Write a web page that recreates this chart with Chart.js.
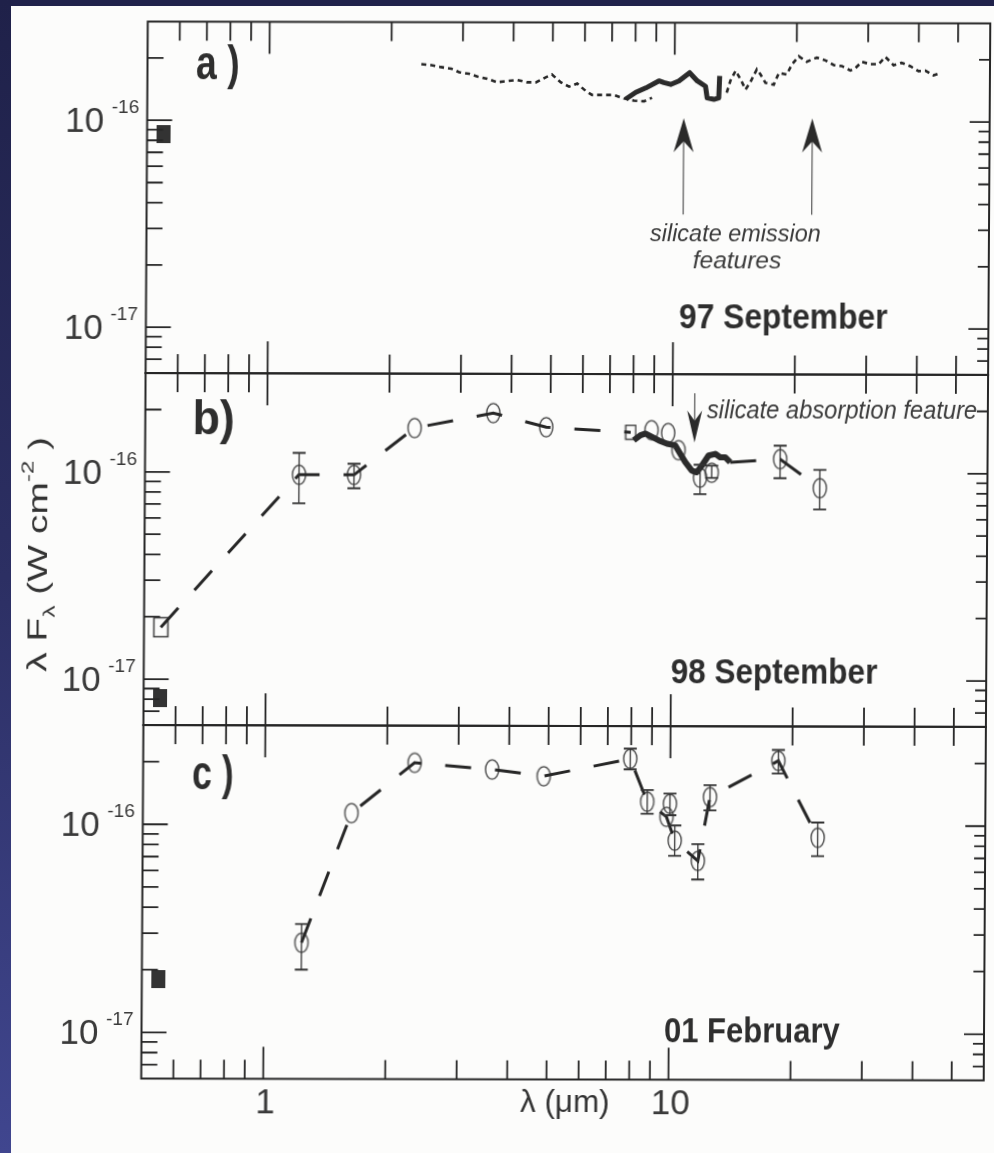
<!DOCTYPE html>
<html>
<head>
<meta charset="utf-8">
<title>Spectral energy distribution, three epochs</title>
<script src="https://cdn.jsdelivr.net/npm/chart.js@4.4.1/dist/chart.umd.min.js"></script>
<style>
  html, body { margin: 0; padding: 0; }
  body { width: 994px; height: 1153px; position: relative; overflow: hidden; background: #fcfcfb; }
  #bandTop { position: absolute; left: 0; top: 0; width: 994px; height: 6px; background: #20224b; }
  #bandLeft { position: absolute; left: 0; top: 0; width: 11px; height: 1153px;
              background: linear-gradient(#1f2149, #2c2f63 50%, #40468f); }
  #stage { position: absolute; left: 0; top: 0; width: 994px; height: 1153px;
           transform-origin: 569px 550px; transform: matrix(1, 0.0022, -0.0062, 1, 0, 0); }
  #stage canvas { position: absolute; left: 0; top: 0; }
</style>
</head>
<body>
<div id="bandTop"></div>
<div id="bandLeft"></div>
<div id="stage">
  <canvas id="panelA" width="994" height="1153"></canvas>
  <canvas id="panelB" width="994" height="1153"></canvas>
  <canvas id="panelC" width="994" height="1153"></canvas>
</div>
<script>
// ---------------- axes (λ in μm, λFλ in W cm^-2) ----------------
const xRange = [0.5, 60];
const yRange = [6e-18, 3e-16];
const xMajorTicks = [1, 10];
const xTickLabels = ['1', '10'];
const xMinorTicks = [0.6, 0.7, 0.8, 0.9, 2, 3, 4, 5, 6, 7, 8, 9, 20, 30, 40, 50];
const yMajorTicks = [1e-16, 1e-17];
const yMajorExponents = ['-16', '-17'];
const yMinorTicks = [2e-16, 9e-17, 8e-17, 7e-17, 6e-17, 5e-17, 4e-17, 3e-17, 2e-17, 9e-18, 8e-18, 7e-18];

// fluxes below are in units of 1e-16 W cm^-2
const FLUX_UNIT = 1e-16;

// ---------------- a) 97 September ----------------
const sep97VisX = [0.55];
const sep97VisFlux = [0.858];
const sep97DotX = [2.37, 2.51, 2.65, 2.81, 2.94, 3.11, 3.26, 3.45, 3.65, 3.86, 4.09, 4.33, 4.55, 4.81, 4.98,
  5.24, 5.49, 5.75, 6.04, 6.26, 6.70, 7.09, 7.50, 7.94, 8.41, 8.80, 11.0, 13.45, 13.74, 14.14, 14.55, 14.97,
  15.40, 15.95, 16.29, 16.76, 17.57, 18.08, 18.91, 19.46, 20.24, 21.18, 22.42, 23.55, 24.69, 25.84, 27.15,
  27.93, 28.95, 30.41, 31.87, 33.11, 34.69, 36.30, 38.15, 39.99, 41.54, 43.54, 44.79];
const sep97DotFlux = [1.88, 1.86, 1.82, 1.79, 1.72, 1.69, 1.64, 1.60, 1.54, 1.56, 1.58, 1.54, 1.54, 1.63, 1.68,
  1.54, 1.47, 1.52, 1.40, 1.34, 1.34, 1.34, 1.29, 1.26, 1.25, 1.30, null, 1.38, 1.58, 1.76, 1.60, 1.43,
  1.56, 1.79, 1.69, 1.54, 1.51, 1.72, 1.69, 1.89, 2.07, 1.95, 2.04, 1.98, 1.88, 1.86, 1.77,
  1.82, 1.95, 1.90, 1.90, 2.06, 1.88, 1.93, 1.86, 1.76, 1.77, 1.68, 1.71];
const sep97BoldX = [7.58, 8.02, 8.49, 9.15, 9.41, 9.78, 10.25, 10.89, 11.38, 11.92, 12.04, 12.51, 12.86, 12.92];
const sep97BoldFlux = [1.28, 1.38, 1.45, 1.57, 1.54, 1.51, 1.57, 1.72, 1.57, 1.48, 1.30, 1.28, 1.30, 1.66];

// ---------------- b) 98 September ----------------
const sep98VisX = [0.55];
const sep98VisFlux = [0.081];
const sep98BoxX = [0.55, 7.89];
const sep98BoxFlux = [0.178, 1.572];
const sep98PhotX = [1.20, 1.64, 2.31, 3.61, 4.88, 8.88, 9.76, 10.36, 11.72, 12.52, 18.46, 23.15];
const sep98PhotFlux = [0.973, 0.973, 1.64, 1.94, 1.66, 1.61, 1.56, 1.29, 0.951, 1.005, 1.17, 0.848];
const sep98ErrLo = [0.708, 0.838, null, null, null, null, null, null, 0.792, 0.948, 0.947, 0.670];
const sep98ErrHi = [1.239, 1.100, null, null, null, null, null, null, 1.097, 1.087, 1.360, 1.039];
const sep98SpecX = [8.03, 8.34, 8.58, 9.25, 9.70, 10.17, 10.46, 10.77, 11.18, 11.50, 11.84, 12.29, 12.77, 13.13, 13.51, 13.90];
const sep98SpecFlux = [1.438, 1.521, 1.550, 1.438, 1.386, 1.360, 1.239, 1.129, 1.028, 1.009, 1.088, 1.216, 1.239, 1.193, 1.193, 1.129];

// ---------------- c) 01 February ----------------
const feb01VisX = [0.55];
const feb01VisFlux = [0.181];
const feb01PhotX = [1.237, 1.636, 2.338, 3.632, 4.87, 7.96, 8.78, 9.80, 9.99, 10.28, 11.73, 12.54, 18.47, 23.16];
const feb01PhotFlux = [0.271, 1.138, 1.99, 1.85, 1.72, 2.09, 1.30, 1.10, 1.27, 0.846, 0.676, 1.37, 2.05, 0.877];
const feb01ErrLo = [0.201, null, null, null, null, 1.86, 1.138, null, 1.12, 0.715, 0.550, 1.182, 1.78, 0.715];
const feb01ErrHi = [0.333, null, null, null, null, 2.337, 1.479, null, 1.423, 1.000, 0.814, 1.564, 2.312, 1.037];
const feb01OnPath = [1, 1, 1, 1, 1, 1, 1, 1, 0, 1, 1, 1, 1, 1];

// ---------------- drawing helpers ----------------
const FONT = '"Liberation Sans", Arial, Helvetica, sans-serif';
const INK = '#262626';
const PANEL_LEFT = 144.5, PANEL_RIGHT = 990.5;

function pts(xs, fs) {
  return xs.map((x, i) => ({ x, y: fs[i] == null ? null : fs[i] * FLUX_UNIT }));
}

function makeMarker(w, h, paint) {
  const c = document.createElement('canvas');
  c.width = w; c.height = h;
  paint(c.getContext('2d'), w, h);
  return c;
}
const ringMark = makeMarker(17, 23, (g, w, h) => {
  g.strokeStyle = '#3a3a3a'; g.lineWidth = 1.3;
  g.beginPath(); g.ellipse(w / 2, h / 2, 6.6, 9.6, 0, 0, Math.PI * 2); g.stroke();
});
const boxBig = makeMarker(17, 22, (g, w, h) => {
  g.strokeStyle = '#3a3a3a'; g.lineWidth = 1.5; g.strokeRect(1.5, 1.5, w - 3, h - 3);
});
const boxSmall = makeMarker(13, 17, (g, w, h) => {
  g.strokeStyle = '#3a3a3a'; g.lineWidth = 1.4; g.strokeRect(1.5, 1.5, w - 3, h - 3);
});
const boxFilled = makeMarker(14, 18, (g, w, h) => {
  g.fillStyle = '#333'; g.fillRect(0, 0, w, h);
});

// text fitted to a given ink width, optionally stretched vertically
function fitText(ctx, t) {
  ctx.save();
  ctx.font = `${t.style || 'normal'} ${t.weight || 'normal'} ${t.size}px ${FONT}`;
  ctx.textAlign = 'left';
  ctx.textBaseline = 'alphabetic';
  const m = ctx.measureText(t.text);
  const ink = m.actualBoundingBoxLeft + m.actualBoundingBoxRight;
  const sx = t.w ? t.w / ink : 1;
  const sy = t.sy || 1;
  const left = t.center != null ? t.center - ink * sx / 2 : t.left;
  ctx.translate(left, t.base);
  ctx.scale(sx, sy);
  ctx.fillStyle = t.color || INK;
  ctx.fillText(t.text, m.actualBoundingBoxLeft, 0);
  ctx.restore();
}

// rotated rich text (sub/superscripts) reading bottom to top
function drawVerticalTitle(ctx, parts, baseX, startY, size, length) {
  ctx.save();
  ctx.textBaseline = 'alphabetic';
  let natural = 0;
  parts.forEach(p => {
    ctx.font = `${size * p.s}px ${FONT}`;
    natural += ctx.measureText(p.t).width;
  });
  const k = length / natural;
  ctx.translate(baseX, startY);
  ctx.rotate(-Math.PI / 2);
  ctx.scale(k, 1);
  ctx.fillStyle = '#333';
  let cx = 0;
  parts.forEach(p => {
    ctx.font = `${size * p.s}px ${FONT}`;
    ctx.fillText(p.t, cx, p.dy * size);
    cx += ctx.measureText(p.t).width;
  });
  ctx.restore();
}

function drawArrow(ctx, x, yTail, yTip, headW, headL) {
  const dir = yTip > yTail ? 1 : -1;
  ctx.save();
  ctx.strokeStyle = '#555'; ctx.lineWidth = 1.2;
  ctx.beginPath(); ctx.moveTo(x, yTail); ctx.lineTo(x, yTip - dir * headL * 0.6); ctx.stroke();
  ctx.fillStyle = '#2a2a2a';
  ctx.beginPath();
  ctx.moveTo(x, yTip);
  ctx.lineTo(x - headW / 2, yTip - dir * headL);
  ctx.lineTo(x, yTip - dir * headL * 0.68);
  ctx.lineTo(x + headW / 2, yTip - dir * headL);
  ctx.closePath(); ctx.fill();
  ctx.restore();
}

// frame, inward ticks, error bars, arrows and captions of one panel
const panelDecor = {
  id: 'panelDecor',
  afterDatasetsDraw(chart, args, opts) {
    const { ctx, scales: { x, y } } = chart;
    chart.data.datasets.forEach(ds => {
      if (!ds.errLo) return;
      ds.data.forEach((p, j) => {
        const lo = ds.errLo[j], hi = ds.errHi[j];
        if (lo == null || hi == null) return;
        const px = x.getPixelForValue(p.x);
        const y0 = y.getPixelForValue(lo * FLUX_UNIT);
        const y1 = y.getPixelForValue(hi * FLUX_UNIT);
        ctx.save();
        ctx.strokeStyle = '#333';
        ctx.lineWidth = 1.3;
        ctx.beginPath(); ctx.moveTo(px, y0); ctx.lineTo(px, y1); ctx.stroke();
        ctx.lineWidth = 1.9;
        ctx.beginPath();
        ctx.moveTo(px - 6.5, y0); ctx.lineTo(px + 6.5, y0);
        ctx.moveTo(px - 6.5, y1); ctx.lineTo(px + 6.5, y1);
        ctx.stroke();
        ctx.restore();
      });
    });
    (opts.arrows || []).forEach(a => {
      drawArrow(ctx, x.getPixelForValue(a.x), y.getPixelForValue(a.from * FLUX_UNIT),
        y.getPixelForValue(a.to * FLUX_UNIT), a.headW, a.headL);
    });
    (opts.texts || []).forEach(t => fitText(ctx, t));
  },
  afterDraw(chart, args, opts) {
    const { ctx, chartArea: a, scales: { x, y } } = chart;
    ctx.save();
    ctx.strokeStyle = INK;
    ctx.lineWidth = 2;
    ctx.strokeRect(a.left, a.top, a.right - a.left, a.bottom - a.top);
    ctx.lineWidth = 1.8;
    ctx.beginPath();
    const xt = (v, len) => {
      const px = x.getPixelForValue(v);
      ctx.moveTo(px, a.top); ctx.lineTo(px, a.top + len);
      ctx.moveTo(px, a.bottom); ctx.lineTo(px, a.bottom - len);
    };
    xMajorTicks.forEach(v => xt(v, 32));
    xMinorTicks.forEach(v => xt(v, 19));
    const yt = (v, lenL, lenR) => {
      const py = y.getPixelForValue(v);
      ctx.moveTo(a.left, py); ctx.lineTo(a.left + lenL, py);
      ctx.moveTo(a.right, py); ctx.lineTo(a.right - lenR, py);
    };
    yMajorTicks.forEach(v => yt(v, 25, 20));
    yMinorTicks.forEach(v => yt(v, 16, 11));
    ctx.stroke();

    // y tick labels: 10 with exponent
    ctx.fillStyle = '#3a3a3a';
    ctx.textBaseline = 'alphabetic';
    yMajorTicks.forEach((v, i) => {
      const py = y.getPixelForValue(v);
      ctx.font = `35px ${FONT}`; ctx.textAlign = 'right';
      ctx.fillText('10', a.left - 43, py + 12);
      ctx.font = `19px ${FONT}`; ctx.textAlign = 'left';
      ctx.fillText(yMajorExponents[i], a.left - 35.5, py - 7);
    });
    if (opts.xLabels) {
      ctx.font = `35px ${FONT}`; ctx.textAlign = 'center';
      xMajorTicks.forEach((v, i) => ctx.fillText(xTickLabels[i], x.getPixelForValue(v) + 2, a.bottom + 34.5));
    }
    ctx.restore();
    if (opts.yTitle) {
      drawVerticalTitle(ctx, [
        { t: 'λ F', s: 1, dy: 0 },
        { t: 'λ', s: 0.62, dy: 0.28 },
        { t: ' (W cm', s: 1, dy: 0 },
        { t: '-2', s: 0.62, dy: -0.5 },
        { t: ' )', s: 1, dy: 0 }
      ], 47, 673, 28, 235);
    }
  }
};

function buildPanel(id, top, bottom, datasets, decor) {
  return new Chart(document.getElementById(id), {
    type: 'scatter',
    data: { datasets },
    options: {
      responsive: false,
      animation: false,
      devicePixelRatio: 1,
      events: [],
      layout: { padding: { left: PANEL_LEFT, right: 994 - PANEL_RIGHT, top, bottom: 1153 - bottom } },
      plugins: { legend: { display: false }, tooltip: { enabled: false }, panelDecor: decor },
      scales: {
        x: { type: 'logarithmic', min: xRange[0], max: xRange[1], display: false },
        y: { type: 'logarithmic', min: yRange[0], max: yRange[1], display: false }
      }
    },
    plugins: [panelDecor]
  });
}

const lineStyle = (extra) => Object.assign({
  showLine: true, pointRadius: 0, fill: false, borderColor: INK, spanGaps: false, clip: false
}, extra);
const markStyle = (style, extra) => Object.assign({
  showLine: false, pointStyle: style, pointRadius: 6, backgroundColor: 'transparent', borderColor: '#333'
}, extra);
const dashed = { borderWidth: 3, borderDash: [26, 24], borderCapStyle: 'butt' };

// ---- panel a ----
buildPanel('panelA', 22.5, 374, [
  lineStyle(Object.assign({ label: 'ground-based spectrum', data: pts(sep97DotX, sep97DotFlux) },
    { borderWidth: 2.6, borderDash: [5, 4] })),
  lineStyle({ label: 'mid-IR spectrum', data: pts(sep97BoldX, sep97BoldFlux), borderWidth: 5, borderColor: '#2b2b2b', borderJoinStyle: 'round' }),
  markStyle(boxFilled, { label: 'V', data: pts(sep97VisX, sep97VisFlux) })
], {
  arrows: [
    { x: 10.55, from: 0.355, to: 1.037, headW: 20, headL: 34 },
    { x: 21.9, from: 0.355, to: 1.037, headW: 20, headL: 34 }
  ],
  texts: [
    { text: 'a )', left: 194, base: 80, size: 38, weight: 'bold', w: 41, sy: 1.25, color: '#2e2e2e' },
    { text: '97 September', left: 678.5, base: 328, size: 30, weight: 'bold', w: 208, sy: 1.15, color: '#2e2e2e' },
    { text: 'silicate emission', center: 733, base: 241, size: 21, style: 'italic', w: 170, sy: 1.15, color: '#3a3a3a' },
    { text: 'features', center: 735.5, base: 268, size: 21, style: 'italic', w: 89, sy: 1.15, color: '#3a3a3a' }
  ]
});

// ---- panel b ----
const sep98PathX = [sep98BoxX[0], ...sep98PhotX.slice(0, 5), sep98BoxX[1]];
const sep98PathFlux = [sep98BoxFlux[0], ...sep98PhotFlux.slice(0, 5), sep98BoxFlux[1]];
const sep98TailX = [sep98SpecX[sep98SpecX.length - 1], ...sep98PhotX.slice(10)];
const sep98TailFlux = [sep98SpecFlux[sep98SpecFlux.length - 1], ...sep98PhotFlux.slice(10)];
buildPanel('panelB', 374, 726, [
  lineStyle(Object.assign({ label: 'SED', data: pts(sep98PathX, sep98PathFlux) }, dashed)),
  lineStyle(Object.assign({ label: 'SED tail', data: pts(sep98TailX, sep98TailFlux) }, dashed)),
  lineStyle({ label: 'mid-IR spectrum', data: pts(sep98SpecX, sep98SpecFlux), borderWidth: 6, borderColor: '#2b2b2b', borderJoinStyle: 'round' }),
  markStyle(ringMark, { label: 'photometry', data: pts(sep98PhotX, sep98PhotFlux), errLo: sep98ErrLo, errHi: sep98ErrHi }),
  markStyle([boxBig, boxSmall], { label: 'box', data: pts(sep98BoxX, sep98BoxFlux) }),
  markStyle(boxFilled, { label: 'V', data: pts(sep98VisX, sep98VisFlux) })
], {
  arrows: [{ x: 11.34, from: 2.43, to: 1.406, headW: 15, headL: 32 }],
  yTitle: true,
  texts: [
    { text: 'b)', left: 194, base: 435, size: 38, weight: 'bold', w: 38, sy: 1.25, color: '#2e2e2e' },
    { text: '98 September', left: 672.5, base: 683, size: 30, weight: 'bold', w: 206, sy: 1.15, color: '#2e2e2e' },
    { text: 'silicate absorption feature', left: 706, base: 418, size: 22, style: 'italic', w: 270, sy: 1.15, color: '#3a3a3a' }
  ]
});

// ---- panel c ----
const feb01PathX = feb01PhotX.filter((v, i) => feb01OnPath[i]);
const feb01PathFlux = feb01PhotFlux.filter((v, i) => feb01OnPath[i]);
buildPanel('panelC', 726, 1079.5, [
  lineStyle(Object.assign({ label: 'SED', data: pts(feb01PathX, feb01PathFlux) }, dashed)),
  markStyle(ringMark, { label: 'photometry', data: pts(feb01PhotX, feb01PhotFlux), errLo: feb01ErrLo, errHi: feb01ErrHi }),
  markStyle(boxFilled, { label: 'V', data: pts(feb01VisX, feb01VisFlux) })
], {
  xLabels: true,
  texts: [
    { text: 'c )', left: 194.5, base: 790, size: 38, weight: 'bold', w: 39, sy: 1.25, color: '#2e2e2e' },
    { text: '01 February', left: 668, base: 1042, size: 30, weight: 'bold', w: 175, sy: 1.15, color: '#2e2e2e' },
    { text: 'λ (μm)', center: 567.5, base: 1112, size: 28, w: 88, sy: 1.1, color: '#333' }
  ]
});
</script>
</body>
</html>
